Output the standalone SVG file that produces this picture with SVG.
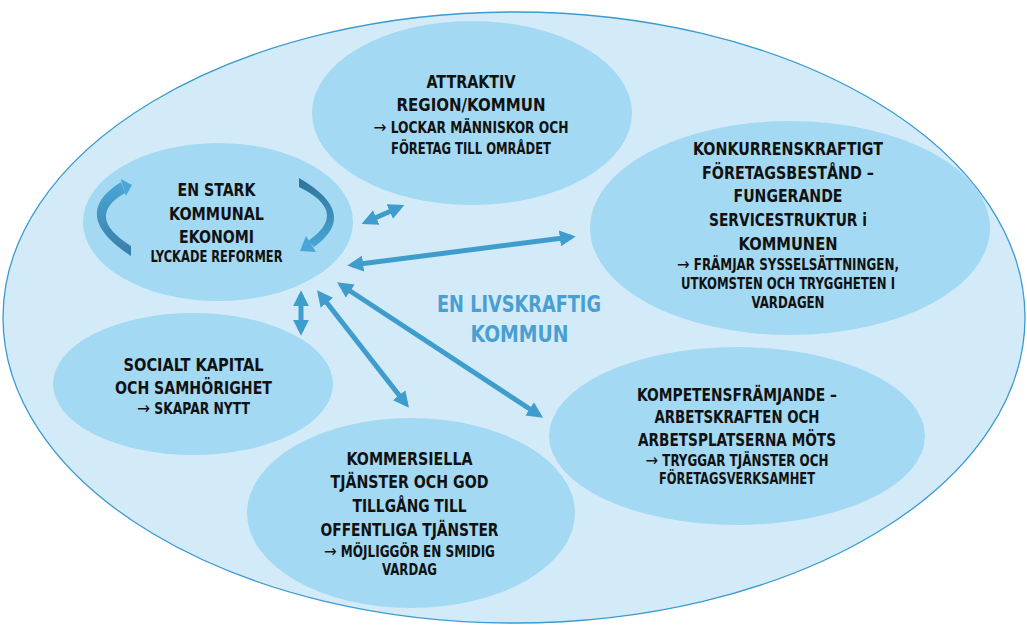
<svg xmlns="http://www.w3.org/2000/svg" width="1027" height="625" viewBox="0 0 1027 625">
<style>
.bg{fill:#d3ebf8;stroke:#3c9ad1;stroke-width:1.3}
.node{fill:#a3d9f2}
text{font-family:"DejaVu Sans Condensed","Liberation Sans Narrow","Liberation Sans",sans-serif;font-weight:bold;text-anchor:middle;fill:#111}
.t{font-size:18px}
.s{font-size:15px}
.ar{font-family:"DejaVu Sans",sans-serif;font-weight:normal;font-size:17px}
.c{font-size:23px;fill:#4a9fd2}
.conn{stroke:#3f9dcd;stroke-width:5;fill:none;marker-start:url(#ah);marker-end:url(#ah)}
</style>
<defs>
<marker id="ah" viewBox="0 0 10 10" refX="7" refY="5" markerWidth="3.2" markerHeight="3.2" orient="auto-start-reverse" markerUnits="strokeWidth">
<path d="M0,0 L10,5 L0,10 Z" fill="#3f9dcd"/>
</marker>
<linearGradient id="gl" x1="0" y1="1" x2="0" y2="0"><stop offset="0" stop-color="#3a7ea6"/><stop offset="1" stop-color="#4aa6d6"/></linearGradient>
<linearGradient id="gr" x1="0" y1="0" x2="0" y2="1"><stop offset="0" stop-color="#2f7398"/><stop offset="1" stop-color="#4aa6d6"/></linearGradient>
</defs>
<ellipse class="bg" cx="514" cy="317.5" rx="511" ry="305.5"/>

<g id="node-ekonomi">
<ellipse class="node" cx="218" cy="222" rx="135" ry="79"/>
<path d="M121 182 Q68 215 131 256 L131 246 Q84 216.5 125 193 Z" fill="url(#gl)"/>
<path d="M132 185 L125.8 196.1 L120.8 178.9 Z" fill="#4aa6d6"/>
<path d="M299 178 Q360.5 213.5 314 247 L308 241 Q350 212 299 187 Z" fill="url(#gr)"/>
<path d="M300 251 L316 252 L306 236 Z" fill="#4aa6d6"/>
<text class="t" x="216.5" y="196" textLength="78" lengthAdjust="spacingAndGlyphs">EN STARK</text>
<text class="t" x="216.5" y="219.5" textLength="95" lengthAdjust="spacingAndGlyphs">KOMMUNAL</text>
<text class="t" x="216.5" y="243" textLength="75" lengthAdjust="spacingAndGlyphs">EKONOMI</text>
<text class="s" x="216.5" y="262" textLength="132" lengthAdjust="spacingAndGlyphs">LYCKADE REFORMER</text>
</g>

<g id="node-attraktiv">
<ellipse class="node" cx="472" cy="113" rx="160" ry="92"/>
<text class="t" x="471" y="88" textLength="89" lengthAdjust="spacingAndGlyphs">ATTRAKTIV</text>
<text class="t" x="471" y="110.5" textLength="149" lengthAdjust="spacingAndGlyphs">REGION/KOMMUN</text>
<text class="s" x="471" y="133" textLength="195" lengthAdjust="spacingAndGlyphs"><tspan class="ar">→</tspan> LOCKAR MÄNNISKOR OCH</text>
<text class="s" x="471" y="153.5" textLength="160" lengthAdjust="spacingAndGlyphs">FÖRETAG TILL OMRÅDET</text>
</g>

<g id="node-konkurrens">
<ellipse class="node" cx="790" cy="228" rx="200" ry="107"/>
<text class="t" x="788" y="155" textLength="190" lengthAdjust="spacingAndGlyphs">KONKURRENSKRAFTIGT</text>
<text class="t" x="788" y="178.5" textLength="172" lengthAdjust="spacingAndGlyphs">FÖRETAGSBESTÅND –</text>
<text class="t" x="788" y="202" textLength="109" lengthAdjust="spacingAndGlyphs">FUNGERANDE</text>
<text class="t" x="788" y="226" textLength="158" lengthAdjust="spacingAndGlyphs">SERVICESTRUKTUR i</text>
<text class="t" x="788" y="249.5" textLength="99" lengthAdjust="spacingAndGlyphs">KOMMUNEN</text>
<text class="s" x="788" y="270" textLength="222" lengthAdjust="spacingAndGlyphs"><tspan class="ar">→</tspan> FRÄMJAR SYSSELSÄTTNINGEN,</text>
<text class="s" x="788" y="288.5" textLength="214" lengthAdjust="spacingAndGlyphs">UTKOMSTEN OCH TRYGGHETEN I</text>
<text class="s" x="788" y="307.5" textLength="73" lengthAdjust="spacingAndGlyphs">VARDAGEN</text>
</g>

<g id="node-socialt">
<ellipse class="node" cx="193" cy="384" rx="140" ry="71"/>
<text class="t" x="193.5" y="371" textLength="140" lengthAdjust="spacingAndGlyphs">SOCIALT KAPITAL</text>
<text class="t" x="193.5" y="393.5" textLength="157" lengthAdjust="spacingAndGlyphs">OCH SAMHÖRIGHET</text>
<text class="s" x="193.5" y="413.5" textLength="113" lengthAdjust="spacingAndGlyphs"><tspan class="ar">→</tspan> SKAPAR NYTT</text>
</g>

<g id="node-kommersiella">
<ellipse class="node" cx="411" cy="513" rx="164" ry="95"/>
<text class="t" x="409.5" y="465" textLength="126" lengthAdjust="spacingAndGlyphs">KOMMERSIELLA</text>
<text class="t" x="409.5" y="487.5" textLength="158" lengthAdjust="spacingAndGlyphs">TJÄNSTER OCH GOD</text>
<text class="t" x="409.5" y="511.5" textLength="114" lengthAdjust="spacingAndGlyphs">TILLGÅNG TILL</text>
<text class="t" x="409.5" y="535.5" textLength="178" lengthAdjust="spacingAndGlyphs">OFFENTLIGA TJÄNSTER</text>
<text class="s" x="409.5" y="556.5" textLength="171" lengthAdjust="spacingAndGlyphs"><tspan class="ar">→</tspan> MÖJLIGGÖR EN SMIDIG</text>
<text class="s" x="409.5" y="575" textLength="55" lengthAdjust="spacingAndGlyphs">VARDAG</text>
</g>

<g id="node-kompetens">
<ellipse class="node" cx="737" cy="436" rx="188" ry="89"/>
<text class="t" x="737" y="401" textLength="200" lengthAdjust="spacingAndGlyphs">KOMPETENSFRÄMJANDE –</text>
<text class="t" x="737" y="423" textLength="165" lengthAdjust="spacingAndGlyphs">ARBETSKRAFTEN OCH</text>
<text class="t" x="737" y="445.5" textLength="198" lengthAdjust="spacingAndGlyphs">ARBETSPLATSERNA MÖTS</text>
<text class="s" x="737" y="465.5" textLength="183" lengthAdjust="spacingAndGlyphs"><tspan class="ar">→</tspan> TRYGGAR TJÄNSTER OCH</text>
<text class="s" x="737" y="483.5" textLength="156" lengthAdjust="spacingAndGlyphs">FÖRETAGSVERKSAMHET</text>
</g>

<g id="center-label">
<text class="c" x="519" y="312" textLength="164" lengthAdjust="spacingAndGlyphs">EN LIVSKRAFTIG</text>
<text class="c" x="519.5" y="342" textLength="98" lengthAdjust="spacingAndGlyphs">KOMMUN</text>
</g>

<g id="connectors">
<line class="conn" x1="366" y1="222" x2="400" y2="207"/>
<line class="conn" x1="352" y1="265" x2="571" y2="237"/>
<line class="conn" x1="341" y1="285" x2="539" y2="415"/>
<line class="conn" x1="320" y1="294" x2="406" y2="404"/>
<line class="conn" x1="301" y1="295" x2="301" y2="331"/>
</g>
</svg>
